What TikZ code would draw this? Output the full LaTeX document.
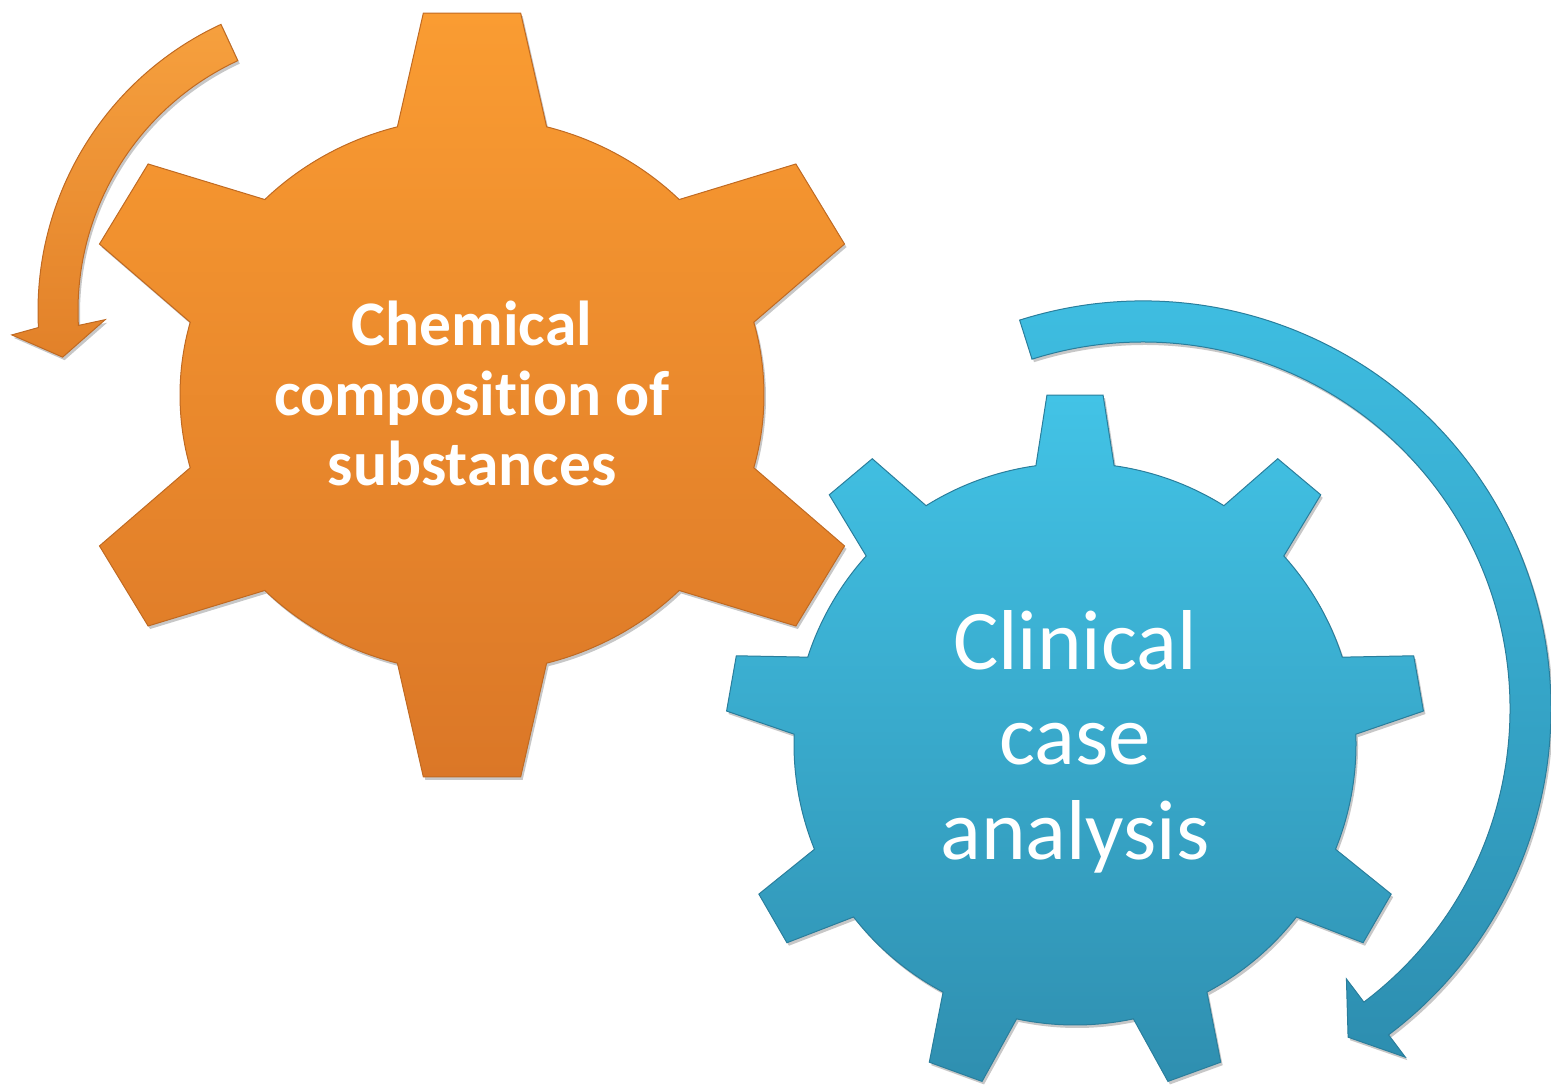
\documentclass[tikz,border=0pt]{standalone}
\usepackage{fontspec}
\setmainfont{Carlito}[Ligatures=NoCommon]
\usetikzlibrary{shadows}
\definecolor{gOtop}{HTML}{FA9C32}
\definecolor{gObot}{HTML}{DB7727}
\definecolor{gOedge}{HTML}{C06A22}
\definecolor{aOtop}{HTML}{F6A03E}
\definecolor{aObot}{HTML}{E28129}
\definecolor{gBtop}{HTML}{42C3E6}
\definecolor{gBbot}{HTML}{2F8FB0}
\definecolor{gBedge}{HTML}{2A7E9C}
\definecolor{aBtop}{HTML}{3FC0E4}
\definecolor{aBbot}{HTML}{2D8EB0}
\begin{document}
\begin{tikzpicture}[x=1pt,y=1pt,
  softshadow/.style={drop shadow={shadow xshift=2pt, shadow yshift=-3pt, opacity=0.22, fill=black}},
  gearO/.style={softshadow, top color=gOtop, bottom color=gObot, draw=gOedge, line width=1pt, line join=miter},
  gearB/.style={softshadow, top color=gBtop, bottom color=gBbot, draw=gBedge, line width=1pt, line join=miter},
  arrO/.style={softshadow, top color=aOtop, bottom color=aObot, draw=gOedge, line width=1pt, line join=miter},
  arrB/.style={softshadow, top color=aBtop, bottom color=aBbot, draw=gBedge, line width=1pt, line join=miter},
  labO/.style={text=white, align=center, font=\fontsize{63.5}{70}\selectfont\bfseries},
  labB/.style={text=white, align=center, font=\fontsize{85}{95}\selectfont}]
\useasboundingbox (0,0) rectangle (1551,1085);
% orange gear (6 teeth)
\def\bO{14.8}\def\tO{6.9}
\begin{scope}[shift={(472,690)}, yscale=0.95]
\path[gearO] (-150-\bO:292pt)
  \foreach \a in {-150,-90,-30,30,90,150} {
    -- (\a-\bO:292pt) -- (\a-\tO:405pt) -- (\a+\tO:405pt) -- (\a+\bO:292pt)
    arc[start angle=\a+\bO, end angle=\a+60-\bO, radius=292pt]
  } -- cycle;
\end{scope}
% orange arrow
\begin{scope}[shift={(354,774)}]
\path[arrO] (114.9:316pt) arc[start angle=114.9, end angle=183, radius=316pt]
  -- (184:343pt) -- (189:295pt) -- (182:249pt) -- (183:276pt)
  arc[start angle=183, end angle=114.9, radius=276pt] -- cycle;
\end{scope}
% blue gear (9 teeth)
\def\bB{8}\def\tB{4.6}
\begin{scope}[shift={(1075,341)}]
\path[gearB] (-150-\bB:281pt)
  \foreach \a in {-150,-110,-70,-30,10,50,90,130,170} {
    -- (\a-\bB:281pt) -- (\a-\tB:350pt) -- (\a+\tB:350pt) -- (\a+\bB:281pt)
    arc[start angle=\a+\bB, end angle=\a+40-\bB, radius=281pt]
  } -- cycle;
\end{scope}
% blue arrow
\begin{scope}[shift={(1143,376)}]
\path[arrB] (107.6:408pt) arc[start angle=107.6, end angle=-53, radius=408pt]
  -- (-53:436pt) -- (-58:387pt) -- (-53:338pt) -- (-53:367pt)
  arc[start angle=-53, end angle=107.6, radius=367pt] -- cycle;
\end{scope}
% labels
\node[labO] (chem) at (472,692) {Chemical\\composition of\\substances};
\node[labB] (clin) at (1075,343) {Clinical\\case\\analysis};
\end{tikzpicture}
\end{document}
